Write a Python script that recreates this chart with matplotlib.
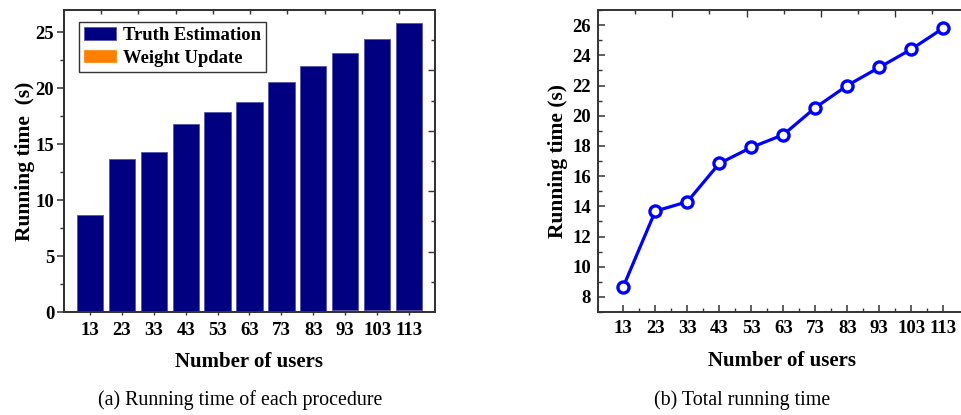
import matplotlib
matplotlib.use("Agg")
import matplotlib.pyplot as plt
from matplotlib.ticker import MultipleLocator, FixedLocator, NullFormatter
import numpy as np

plt.rcParams['font.family'] = ['Liberation Serif', 'DejaVu Serif']
plt.rcParams['font.weight'] = 'bold'

# Data
users = [13, 23, 33, 43, 53, 63, 73, 83, 93, 103, 113]
weight_update = [0.03, 0.04, 0.05, 0.06, 0.07, 0.08, 0.10, 0.12, 0.14, 0.16, 0.20]
total_time = [8.68, 13.68, 14.30, 16.84, 17.90, 18.74, 20.53, 22.00, 23.20, 24.40, 25.80]
truth_estimation = [t - w for t, w in zip(total_time, weight_update)]

W, H = 962, 415
fig = plt.figure(figsize=(W / 100, H / 100), dpi=100)

spine_c = '#333333'
tick_fs = 13.5
label_fs = 15.5


def style_spines(ax):
    for s in ax.spines.values():
        s.set_color(spine_c)
        s.set_linewidth(1.2)


# ---- (a) stacked bars ----
ax1 = fig.add_axes([64 / W, 103 / H, 371 / W, 302 / H])
x = np.arange(len(users))
ax1.bar(x, weight_update, width=0.82, color='#FF8000', edgecolor='#FF8000', linewidth=0.5,
        label='Weight Update', zorder=2)
ax1.bar(x, truth_estimation, width=0.82, bottom=weight_update, color='#000080',
        edgecolor='#5555b0', linewidth=0.6, label='Truth Estimation', zorder=2)
ax1.set_xlim(-0.81, 10.81)
ax1.set_ylim(0, 27)
ax1.set_xticks(x)
ax1.set_xticklabels([str(u) for u in users])
ax1.yaxis.set_major_locator(MultipleLocator(5))
ax1.yaxis.set_minor_locator(MultipleLocator(2.5))
ax1.tick_params(axis='y', which='major', direction='out', length=5, width=1.1, color=spine_c,
                labelsize=tick_fs, pad=2)
ax1.tick_params(axis='y', which='minor', direction='out', length=3, width=1.0, color=spine_c)
ax1.tick_params(axis='x', which='major', direction='out', length=2, width=1.0, color=spine_c,
                labelsize=tick_fs, pad=5)
ax1.set_xlabel('Number of users', fontsize=15, fontweight='bold', labelpad=9.5)
ax1.set_ylabel('Running time  (s)', fontsize=label_fs, fontweight='bold', labelpad=0.5)
style_spines(ax1)

handles, labels = ax1.get_legend_handles_labels()
leg = ax1.legend(handles[::-1], labels[::-1], loc='upper left',
                 bbox_to_anchor=((78.7 - 64) / 371, (312 - 22) / 302),
                 borderaxespad=0, fancybox=False, framealpha=1, edgecolor=spine_c,
                 prop={'size': 13.4, 'weight': 'bold'}, handlelength=1.7,
                 handleheight=0.65, handletextpad=0.4, borderpad=0.28, labelspacing=0.3)
leg.get_frame().set_linewidth(1.0)

# secondary scales on top and right
top1 = ax1.twiny()
top1.set_xlim(0, 371 / 37.25)
top1.xaxis.set_major_locator(FixedLocator(np.arange(1, 10)))
top1.xaxis.set_major_formatter(NullFormatter())
top1.tick_params(axis='x', direction='in', length=3, width=1.0, color=spine_c)
right1 = ax1.twinx()
right1.set_ylim(0, 10)
right1.yaxis.set_major_locator(FixedLocator([2, 4, 6, 8]))
right1.yaxis.set_minor_locator(FixedLocator([1, 3, 5, 7, 9]))
right1.yaxis.set_major_formatter(NullFormatter())
right1.tick_params(axis='y', which='major', direction='in', length=5, width=1.0, color=spine_c)
right1.tick_params(axis='y', which='minor', direction='in', length=3, width=1.0, color=spine_c)
for a in (top1, right1):
    style_spines(a)

# ---- (b) total running time ----
ax2 = fig.add_axes([597.7 / W, 103 / H, 368 / W, 302 / H])
ax2.plot(users, total_time, color='#0000FF', linewidth=2.3, marker='o', markersize=8,
         markerfacecolor='white', markeredgecolor='#0000FF', markeredgewidth=2.4, zorder=3)
ax2.set_xlim(5, 120)
ax2.set_ylim(7, 27)
ax2.set_xticks(users)
ax2.xaxis.set_minor_locator(FixedLocator([u + 5 for u in users[:-1]]))
ax2.yaxis.set_major_locator(MultipleLocator(2))
ax2.yaxis.set_minor_locator(MultipleLocator(1))
ax2.tick_params(axis='both', which='major', direction='in', length=5, width=1.1, color=spine_c,
                labelsize=tick_fs)
ax2.tick_params(axis='both', which='minor', direction='in', length=3, width=1.0, color=spine_c)
ax2.tick_params(axis='x', which='major', pad=6)
ax2.tick_params(axis='y', which='major', pad=5)
ax2.set_xlabel('Number of users', fontsize=15, fontweight='bold', labelpad=9.5)
ax2.set_ylabel('Running time (s)', fontsize=label_fs, fontweight='bold', labelpad=3)
style_spines(ax2)

top2 = ax2.twiny()
top2.set_xlim(0, 368 / 37.2)
top2.xaxis.set_major_locator(FixedLocator([2, 4, 6, 8]))
top2.xaxis.set_minor_locator(FixedLocator([1, 3, 5, 7, 9]))
top2.xaxis.set_major_formatter(NullFormatter())
top2.tick_params(axis='x', which='major', direction='in', length=5, width=1.0, color=spine_c)
top2.tick_params(axis='x', which='minor', direction='in', length=3, width=1.0, color=spine_c)
style_spines(top2)

# captions
fig.text(240 / W, 1 - 400 / H, '(a) Running time of each procedure', ha='center', va='center',
         fontsize=14.4, fontweight='normal')
fig.text(742 / W, 1 - 400 / H, '(b) Total running time', ha='center', va='center',
         fontsize=14.4, fontweight='normal')

fig.savefig('out.png', dpi=100)
